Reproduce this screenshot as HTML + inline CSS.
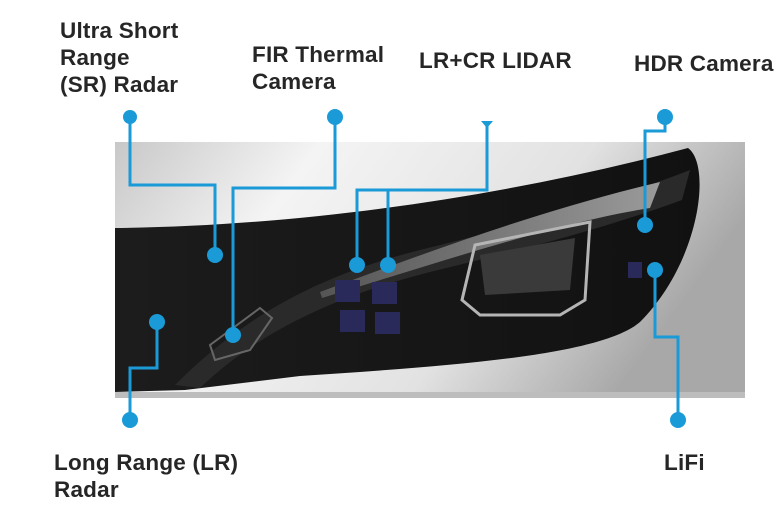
<!DOCTYPE html>
<html><head><style>
html,body{margin:0;padding:0;background:#fff;}
svg{display:block}
text{font-family:"Liberation Sans",sans-serif;font-weight:bold;font-size:22.5px;letter-spacing:0.2px;fill:#262626}
</style></head><body>
<svg width="784" height="512" viewBox="0 0 784 512" xmlns="http://www.w3.org/2000/svg">
<defs>
<linearGradient id="bg" x1="0" y1="0" x2="1" y2="0.3">
<stop offset="0" stop-color="#c8c8c8"/><stop offset="0.3" stop-color="#f4f4f4"/><stop offset="0.7" stop-color="#e2e2e2"/><stop offset="1" stop-color="#a8a8a8"/>
</linearGradient>
<linearGradient id="dk" x1="0" y1="0" x2="1" y2="0">
<stop offset="0" stop-color="#1c1c1c"/><stop offset="1" stop-color="#111"/>
</linearGradient>
<linearGradient id="lens" x1="0" y1="0" x2="1" y2="0">
<stop offset="0" stop-color="#555"/><stop offset="1" stop-color="#9a9a9a"/>
</linearGradient>
</defs>
<rect x="115" y="142" width="630" height="256" fill="url(#bg)"/>
<path d="M115,228 C300,226 500,198 688,148 C712,165 700,262 640,322 C600,356 450,366 300,376 L185,390 L115,392 Z" fill="url(#dk)"/>
<path d="M175,385 C230,330 300,280 420,250 C520,225 600,205 690,170 L682,200 C600,230 520,250 430,272 C320,300 250,340 200,388 Z" fill="#2a2a2a"/>
<path d="M320,292 C420,255 540,210 660,182 L650,208 C560,222 440,262 322,298 Z" fill="url(#lens)"/>
<path d="M475,245 L590,222 L585,300 L560,315 L480,315 L462,300 Z" fill="none" stroke="#b5b5b5" stroke-width="3"/>
<path d="M480,255 L575,238 L570,290 L485,295 Z" fill="#3a3a3a"/>
<path d="M210,345 L260,308 L272,318 L250,350 L215,360 Z" fill="none" stroke="#666" stroke-width="2"/>
<g fill="#2a2a5a"><rect x="335" y="280" width="25" height="22"/><rect x="372" y="282" width="25" height="22"/><rect x="340" y="310" width="25" height="22"/><rect x="375" y="312" width="25" height="22"/><rect x="628" y="262" width="14" height="16"/></g>
<rect x="115" y="392" width="630" height="6" fill="#bdbdbd"/>

<g stroke="#1a9ad6" stroke-width="3" fill="none">
<polyline points="130,117 130,185 215,185 215,255"/>
<polyline points="335,117 335,188 233,188 233,335"/>
<polyline points="487,123 487,190 357,190 357,265"/>
<polyline points="388,190 388,265"/>
<polyline points="665,117 665,131 645,131 645,225"/>
<polyline points="655,270 655,337 678,337 678,420"/>
<polyline points="157,322 157,368 130,368 130,420"/>
</g>
<g fill="#1a9ad6">
<circle cx="130" cy="117" r="7"/><circle cx="215" cy="255" r="8"/>
<circle cx="335" cy="117" r="8"/><circle cx="233" cy="335" r="8"/>
<path d="M481,121 L493,121 L487,128 Z"/>
<circle cx="357" cy="265" r="8"/><circle cx="388" cy="265" r="8"/>
<circle cx="665" cy="117" r="8"/><circle cx="645" cy="225" r="8"/>
<circle cx="655" cy="270" r="8"/><circle cx="678" cy="420" r="8"/>
<circle cx="157" cy="322" r="8"/><circle cx="130" cy="420" r="8"/>
</g>

<text x="60" y="38">Ultra Short</text>
<text x="60" y="65">Range</text>
<text x="60" y="92">(SR) Radar</text>
<text x="252" y="62">FIR Thermal</text>
<text x="252" y="89">Camera</text>
<text x="419" y="68">LR+CR LIDAR</text>
<text x="634" y="71">HDR Camera</text>
<text x="54" y="470">Long Range (LR)</text>
<text x="54" y="497">Radar</text>
<text x="664" y="470">LiFi</text>
</svg>
</body></html>
